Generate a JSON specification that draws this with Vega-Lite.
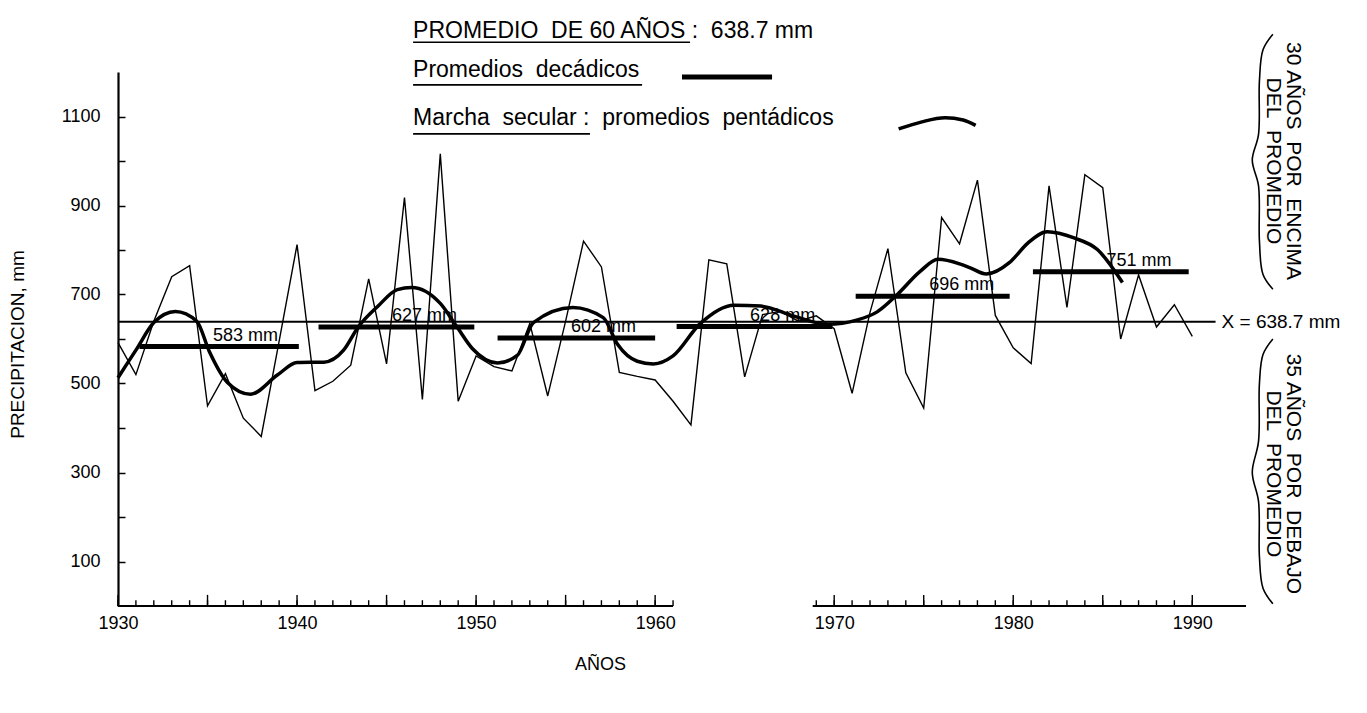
{
  "$schema": "https://vega.github.io/schema/vega-lite/v6.json",
  "width": 1128,
  "height": 534,
  "autosize": {"type": "none"},
  "padding": {"left": 118, "top": 72, "right": 121, "bottom": 107},
  "background": "white",
  "config": {"view": {"stroke": null}, "font": "Liberation Sans", "text": {"color": "black"}},
  "datasets": {
    "annual": [
      {"year": 1930, "mm": 592}, {"year": 1931, "mm": 520}, {"year": 1932, "mm": 640}, {"year": 1933, "mm": 740},
      {"year": 1934, "mm": 765}, {"year": 1935, "mm": 450}, {"year": 1936, "mm": 522}, {"year": 1937, "mm": 422},
      {"year": 1938, "mm": 381}, {"year": 1939, "mm": 595}, {"year": 1940, "mm": 812}, {"year": 1941, "mm": 484},
      {"year": 1942, "mm": 505}, {"year": 1943, "mm": 541}, {"year": 1944, "mm": 735}, {"year": 1945, "mm": 544},
      {"year": 1946, "mm": 918}, {"year": 1947, "mm": 464}, {"year": 1948, "mm": 1016}, {"year": 1949, "mm": 460},
      {"year": 1950, "mm": 562}, {"year": 1951, "mm": 538}, {"year": 1952, "mm": 528}, {"year": 1953, "mm": 635},
      {"year": 1954, "mm": 472}, {"year": 1955, "mm": 640}, {"year": 1956, "mm": 820}, {"year": 1957, "mm": 762},
      {"year": 1958, "mm": 525}, {"year": 1959, "mm": 516}, {"year": 1960, "mm": 508}, {"year": 1961, "mm": 460},
      {"year": 1962, "mm": 407}, {"year": 1963, "mm": 778}, {"year": 1964, "mm": 769}, {"year": 1965, "mm": 515},
      {"year": 1966, "mm": 655}, {"year": 1967, "mm": 662}, {"year": 1968, "mm": 640}, {"year": 1969, "mm": 652},
      {"year": 1970, "mm": 623}, {"year": 1971, "mm": 478}, {"year": 1972, "mm": 660}, {"year": 1973, "mm": 803},
      {"year": 1974, "mm": 524}, {"year": 1975, "mm": 445}, {"year": 1976, "mm": 873}, {"year": 1977, "mm": 814},
      {"year": 1978, "mm": 957}, {"year": 1979, "mm": 653}, {"year": 1980, "mm": 580}, {"year": 1981, "mm": 545},
      {"year": 1982, "mm": 944}, {"year": 1983, "mm": 671}, {"year": 1984, "mm": 969}, {"year": 1985, "mm": 940},
      {"year": 1986, "mm": 600}, {"year": 1987, "mm": 744}, {"year": 1988, "mm": 627}, {"year": 1989, "mm": 677},
      {"year": 1990, "mm": 606}
    ],
    "secular": [
      {"year": 1930.0, "mm": 513}, {"year": 1931.0, "mm": 575}, {"year": 1932.0, "mm": 637}, {"year": 1933.2, "mm": 662},
      {"year": 1934.4, "mm": 640}, {"year": 1935.1, "mm": 572}, {"year": 1936.1, "mm": 503}, {"year": 1937.4, "mm": 476},
      {"year": 1938.9, "mm": 519}, {"year": 1940.0, "mm": 547}, {"year": 1941.5, "mm": 548}, {"year": 1942.6, "mm": 575},
      {"year": 1943.4, "mm": 626}, {"year": 1944.5, "mm": 673}, {"year": 1945.6, "mm": 711}, {"year": 1946.4, "mm": 716},
      {"year": 1948.0, "mm": 680}, {"year": 1948.9, "mm": 629}, {"year": 1949.8, "mm": 578}, {"year": 1951.2, "mm": 546},
      {"year": 1952.3, "mm": 563}, {"year": 1953.2, "mm": 637}, {"year": 1955.4, "mm": 671}, {"year": 1957.1, "mm": 648},
      {"year": 1957.9, "mm": 588}, {"year": 1959.0, "mm": 550}, {"year": 1959.9, "mm": 544}, {"year": 1961.0, "mm": 562},
      {"year": 1962.5, "mm": 634}, {"year": 1964.4, "mm": 676}, {"year": 1965.9, "mm": 674}, {"year": 1967.7, "mm": 652},
      {"year": 1969.6, "mm": 633}, {"year": 1971.3, "mm": 643}, {"year": 1972.4, "mm": 661}, {"year": 1973.5, "mm": 699},
      {"year": 1974.8, "mm": 752}, {"year": 1975.8, "mm": 779}, {"year": 1977.0, "mm": 769}, {"year": 1977.6, "mm": 760},
      {"year": 1978.5, "mm": 746}, {"year": 1979.8, "mm": 772}, {"year": 1980.8, "mm": 815}, {"year": 1981.9, "mm": 841},
      {"year": 1983.4, "mm": 827}, {"year": 1984.7, "mm": 801}, {"year": 1986.1, "mm": 727}
    ],
    "decadal": [
      {"start": 1931.2, "end": 1940.1, "mm": 583, "label": "583 mm"},
      {"start": 1941.2, "end": 1949.9, "mm": 627, "label": "627 mm"},
      {"start": 1951.2, "end": 1960.0, "mm": 602, "label": "602 mm"},
      {"start": 1961.2, "end": 1969.9, "mm": 628, "label": "628 mm"},
      {"start": 1971.2, "end": 1979.8, "mm": 696, "label": "696 mm"},
      {"start": 1981.1, "end": 1989.8, "mm": 751, "label": "751 mm"}
    ],
    "mean": [{"from": 1930, "to": 1991.3, "mm": 638.7, "label": "X = 638.7 mm"}],
    "axisline": [{"from": 1930, "to": 1961.0, "mm": 0}, {"from": 1968.8, "to": 1993, "mm": 0}],
    "braces": [
      {"g": "sobre", "i": 0, "bx": 1994.5, "by": 1285}, {"g": "sobre", "i": 1, "bx": 1993.95, "by": 1250},
      {"g": "sobre", "i": 2, "bx": 1993.75, "by": 1180}, {"g": "sobre", "i": 3, "bx": 1993.7, "by": 1060},
      {"g": "sobre", "i": 4, "bx": 1993.35, "by": 1002}, {"g": "sobre", "i": 5, "bx": 1993.7, "by": 944},
      {"g": "sobre", "i": 6, "bx": 1993.75, "by": 820}, {"g": "sobre", "i": 7, "bx": 1993.95, "by": 745},
      {"g": "sobre", "i": 8, "bx": 1994.5, "by": 712},
      {"g": "bajo", "i": 0, "bx": 1994.5, "by": 600}, {"g": "bajo", "i": 1, "bx": 1993.95, "by": 565},
      {"g": "bajo", "i": 2, "bx": 1993.75, "by": 500}, {"g": "bajo", "i": 3, "bx": 1993.7, "by": 370},
      {"g": "bajo", "i": 4, "bx": 1993.35, "by": 300}, {"g": "bajo", "i": 5, "bx": 1993.7, "by": 235},
      {"g": "bajo", "i": 6, "bx": 1993.75, "by": 110}, {"g": "bajo", "i": 7, "bx": 1993.95, "by": 40},
      {"g": "bajo", "i": 8, "bx": 1994.5, "by": 5}
    ],
    "sample": [
      {"sx": 1973.6, "sy": 1072}, {"sx": 1974.9, "sy": 1088}, {"sx": 1976.2, "sy": 1097},
      {"sx": 1977.2, "sy": 1092}, {"sx": 1977.9, "sy": 1080}
    ]
  },
  "layer": [
    {
      "data": {"name": "annual"},
      "mark": {"type": "line", "color": "black", "strokeWidth": 1.4},
      "encoding": {
        "x": {"field": "year", "type": "quantitative", "scale": {"domain": [1930, 1993], "nice": false, "zero": false},
          "axis": {"values": [1930, 1940, 1950, 1960, 1970, 1980, 1990], "format": "d",
            "labelOverlap": false, "labelFlush": false,
            "ticks": false, "domain": false,
            "labelFontSize": 18, "labelColor": "black", "labelPadding": 8, "grid": false,
            "title": "AÑOS", "titleFontSize": 18, "titleFontWeight": "normal", "titleColor": "black", "titleX": 482, "titleY": 49}},
        "y": {"field": "mm", "type": "quantitative", "scale": {"domain": [0, 1200], "nice": false, "zero": false},
          "axis": {"values": [100,200,300,400,500,600,700,800,900,1000,1100],
            "labelExpr": "datum.value % 200 === 100 ? datum.value : ''", "labelOverlap": false, "labelFlush": false,
            "tickSize": -7, "tickColor": "black", "tickWidth": 1.5, "domainColor": "black", "domainWidth": 2.2,
            "labelFontSize": 18, "labelColor": "black", "labelPadding": 25, "grid": false,
            "title": "PRECIPITACION, mm", "titleFontSize": 19, "titleFontWeight": "normal", "titleColor": "black", "titleX": -91, "titleY": 272}}
      }
    },
    {
      "data": {"name": "annual"},
      "transform": [{"filter": "datum.year < 1962 || datum.year > 1968"}],
      "mark": {"type": "rule", "color": "black", "strokeWidth": 1.4},
      "encoding": {
        "x": {"field": "year", "type": "quantitative", "scale": {"domain": [1930, 1993], "nice": false, "zero": false}},
        "y": {"datum": 0, "type": "quantitative", "scale": {"domain": [0, 1200], "nice": false, "zero": false}},
        "y2": {"datum": 13}
      }
    },
    {
      "data": {"name": "annual"},
      "transform": [{"filter": "datum.year % 5 === 0 && (datum.year < 1962 || datum.year > 1968)"}],
      "mark": {"type": "rule", "color": "black", "strokeWidth": 1.4},
      "encoding": {
        "x": {"field": "year", "type": "quantitative", "scale": {"domain": [1930, 1993], "nice": false, "zero": false}},
        "y": {"datum": 0, "type": "quantitative", "scale": {"domain": [0, 1200], "nice": false, "zero": false}},
        "y2": {"datum": 25}
      }
    },
    {
      "data": {"name": "axisline"},
      "mark": {"type": "rule", "color": "black", "strokeWidth": 2.2},
      "encoding": {
        "x": {"field": "from", "type": "quantitative", "scale": {"domain": [1930, 1993], "nice": false, "zero": false}},
        "x2": {"field": "to"},
        "y": {"field": "mm", "type": "quantitative", "scale": {"domain": [0, 1200], "nice": false, "zero": false}}
      }
    },
    {
      "data": {"name": "mean"},
      "mark": {"type": "rule", "color": "black", "strokeWidth": 2},
      "encoding": {
        "x": {"field": "from", "type": "quantitative", "scale": {"domain": [1930, 1993], "nice": false, "zero": false}},
        "x2": {"field": "to"},
        "y": {"field": "mm", "type": "quantitative", "scale": {"domain": [0, 1200], "nice": false, "zero": false}}
      }
    },
    {
      "data": {"name": "mean"},
      "mark": {"type": "text", "align": "left", "baseline": "middle", "dx": 6, "fontSize": 19},
      "encoding": {
        "x": {"field": "to", "type": "quantitative", "scale": {"domain": [1930, 1993], "nice": false, "zero": false}},
        "y": {"field": "mm", "type": "quantitative", "scale": {"domain": [0, 1200], "nice": false, "zero": false}},
        "text": {"field": "label"}
      }
    },
    {
      "data": {"name": "decadal"},
      "mark": {"type": "rule", "color": "black", "strokeWidth": 5},
      "encoding": {
        "x": {"field": "start", "type": "quantitative", "scale": {"domain": [1930, 1993], "nice": false, "zero": false}},
        "x2": {"field": "end"},
        "y": {"field": "mm", "type": "quantitative", "scale": {"domain": [0, 1200], "nice": false, "zero": false}}
      }
    },
    {
      "data": {"name": "decadal"},
      "mark": {"type": "text", "align": "center", "baseline": "bottom", "dx": 106, "dy": -2, "fontSize": 18},
      "encoding": {
        "x": {"field": "start", "type": "quantitative", "scale": {"domain": [1930, 1993], "nice": false, "zero": false}},
        "y": {"field": "mm", "type": "quantitative", "scale": {"domain": [0, 1200], "nice": false, "zero": false}},
        "text": {"field": "label"}
      }
    },
    {
      "data": {"name": "secular"},
      "mark": {"type": "line", "color": "black", "strokeWidth": 3.5, "interpolate": "monotone"},
      "encoding": {
        "x": {"field": "year", "type": "quantitative", "scale": {"domain": [1930, 1993], "nice": false, "zero": false}},
        "y": {"field": "mm", "type": "quantitative", "scale": {"domain": [0, 1200], "nice": false, "zero": false}}
      }
    },
    {
      "data": {"name": "braces"},
      "mark": {"type": "line", "color": "black", "strokeWidth": 1.6, "interpolate": "catmull-rom"},
      "encoding": {
        "x": {"field": "bx", "type": "quantitative", "scale": {"domain": [1930, 1993], "nice": false, "zero": false}},
        "y": {"field": "by", "type": "quantitative", "scale": {"domain": [0, 1200], "nice": false, "zero": false}},
        "detail": {"field": "g"},
        "order": {"field": "i"}
      }
    },
    {
      "data": {"name": "sample"},
      "mark": {"type": "line", "color": "black", "strokeWidth": 3.5, "interpolate": "monotone"},
      "encoding": {
        "x": {"field": "sx", "type": "quantitative", "scale": {"domain": [1930, 1993], "nice": false, "zero": false}},
        "y": {"field": "sy", "type": "quantitative", "scale": {"domain": [0, 1200], "nice": false, "zero": false}}
      }
    },
    {
      "data": {"values": [{}]},
      "layer": [
        {"mark": {"type": "text", "align": "left", "baseline": "middle", "fontSize": 23, "text": "PROMEDIO\u00a0\u00a0DE 60 AÑOS :\u00a0\u00a0638.7 mm"},
         "encoding": {"x": {"datum": 1946.48, "type": "quantitative", "scale": {"domain": [1930, 1993], "nice": false, "zero": false}},
                      "y": {"datum": 1292, "type": "quantitative", "scale": {"domain": [0, 1200], "nice": false, "zero": false}}}},
        {"mark": {"type": "rule", "color": "black", "strokeWidth": 1.6},
         "encoding": {"x": {"datum": 1946.48, "type": "quantitative", "scale": {"domain": [1930, 1993], "nice": false, "zero": false}},
                      "x2": {"datum": 1961.95},
                      "y": {"datum": 1267, "type": "quantitative", "scale": {"domain": [0, 1200], "nice": false, "zero": false}}}},
        {"mark": {"type": "text", "align": "left", "baseline": "middle", "fontSize": 23, "text": "Promedios\u00a0\u00a0decádicos"},
         "encoding": {"x": {"datum": 1946.48, "type": "quantitative", "scale": {"domain": [1930, 1993], "nice": false, "zero": false}},
                      "y": {"datum": 1204, "type": "quantitative", "scale": {"domain": [0, 1200], "nice": false, "zero": false}}}},
        {"mark": {"type": "rule", "color": "black", "strokeWidth": 1.6},
         "encoding": {"x": {"datum": 1946.48, "type": "quantitative", "scale": {"domain": [1930, 1993], "nice": false, "zero": false}},
                      "x2": {"datum": 1959.27},
                      "y": {"datum": 1171, "type": "quantitative", "scale": {"domain": [0, 1200], "nice": false, "zero": false}}}},
        {"mark": {"type": "rule", "color": "black", "strokeWidth": 5},
         "encoding": {"x": {"datum": 1961.5, "type": "quantitative", "scale": {"domain": [1930, 1993], "nice": false, "zero": false}},
                      "x2": {"datum": 1966.53},
                      "y": {"datum": 1189, "type": "quantitative", "scale": {"domain": [0, 1200], "nice": false, "zero": false}}}},
        {"mark": {"type": "text", "align": "left", "baseline": "middle", "fontSize": 23, "text": "Marcha\u00a0\u00a0secular :\u00a0\u00a0promedios\u00a0\u00a0pentádicos"},
         "encoding": {"x": {"datum": 1946.48, "type": "quantitative", "scale": {"domain": [1930, 1993], "nice": false, "zero": false}},
                      "y": {"datum": 1097, "type": "quantitative", "scale": {"domain": [0, 1200], "nice": false, "zero": false}}}},
        {"mark": {"type": "rule", "color": "black", "strokeWidth": 1.6},
         "encoding": {"x": {"datum": 1946.48, "type": "quantitative", "scale": {"domain": [1930, 1993], "nice": false, "zero": false}},
                      "x2": {"datum": 1956.36},
                      "y": {"datum": 1061, "type": "quantitative", "scale": {"domain": [0, 1200], "nice": false, "zero": false}}}},
        {"mark": {"type": "text", "align": "center", "baseline": "middle", "angle": 90, "fontSize": 21, "text": "30 AÑOS\u00a0\u00a0POR\u00a0\u00a0ENCIMA"},
         "encoding": {"x": {"datum": 1995.64, "type": "quantitative", "scale": {"domain": [1930, 1993], "nice": false, "zero": false}},
                      "y": {"datum": 1000, "type": "quantitative", "scale": {"domain": [0, 1200], "nice": false, "zero": false}}}},
        {"mark": {"type": "text", "align": "center", "baseline": "middle", "angle": 90, "fontSize": 21, "text": "DEL\u00a0\u00a0PROMEDIO"},
         "encoding": {"x": {"datum": 1994.53, "type": "quantitative", "scale": {"domain": [1930, 1993], "nice": false, "zero": false}},
                      "y": {"datum": 1000, "type": "quantitative", "scale": {"domain": [0, 1200], "nice": false, "zero": false}}}},
        {"mark": {"type": "text", "align": "center", "baseline": "middle", "angle": 90, "fontSize": 21, "text": "35 AÑOS\u00a0\u00a0POR\u00a0\u00a0DEBAJO"},
         "encoding": {"x": {"datum": 1995.64, "type": "quantitative", "scale": {"domain": [1930, 1993], "nice": false, "zero": false}},
                      "y": {"datum": 297, "type": "quantitative", "scale": {"domain": [0, 1200], "nice": false, "zero": false}}}},
        {"mark": {"type": "text", "align": "center", "baseline": "middle", "angle": 90, "fontSize": 21, "text": "DEL\u00a0\u00a0PROMEDIO"},
         "encoding": {"x": {"datum": 1994.53, "type": "quantitative", "scale": {"domain": [1930, 1993], "nice": false, "zero": false}},
                      "y": {"datum": 297, "type": "quantitative", "scale": {"domain": [0, 1200], "nice": false, "zero": false}}}}
      ]
    }
  ]
}
